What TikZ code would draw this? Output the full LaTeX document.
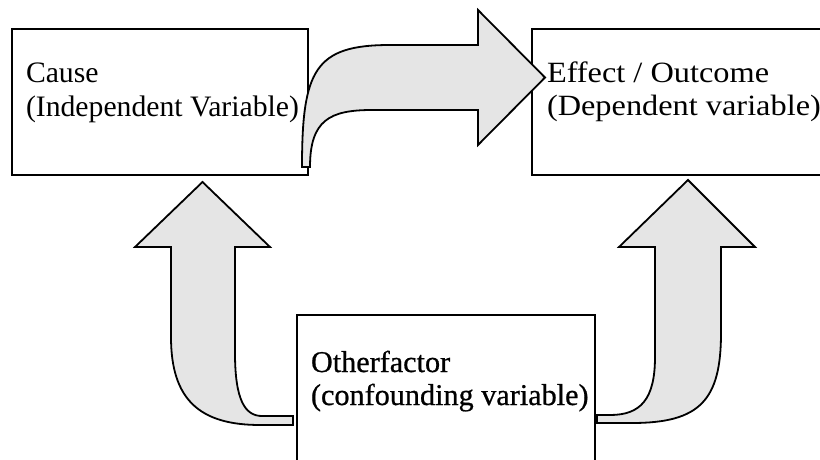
\documentclass[tikz,border=0pt]{standalone}
\usepackage{fontspec}
\setmainfont{Liberation Serif}
\newfontfamily\heavyserif[FakeBold=0.7]{Liberation Serif}
\begin{document}
\begin{tikzpicture}[x=1pt,y=-1pt,
  boxnode/.style={draw=black, line width=2pt, rectangle, inner sep=0pt, outer sep=0pt},
  txt/.style={anchor=base west, inner sep=0pt, outer sep=0pt},
  blockarrow/.style={draw=black, fill=gray!20, line width=1.8pt, line join=miter}]
\useasboundingbox (0,0) rectangle (820,460);
\clip (0,0) rectangle (820,460);
% boxes
\node[boxnode, minimum width=296pt, minimum height=146pt] (cause) at (160,102) {};
\node[boxnode, minimum width=300pt, minimum height=146pt] (effect) at (682,102) {};
\node[boxnode, minimum width=298pt, minimum height=160pt] (other) at (446,395) {};
% texts
\node[txt, font=\fontsize{29.7}{34}\selectfont] (causeA) at (26,83) {Cause};
\node[txt, font=\fontsize{29.7}{34}\selectfont] (causeB) at (26,117) {(Independent Variable)};
\node[txt, font=\fontsize{29.4}{34}\selectfont] (effA) at (547,83) {\scalebox{1.1}[1]{Effect / Outcome}};
\node[txt, font=\fontsize{29.4}{34}\selectfont] (effB) at (547,116) {\scalebox{1.1}[1]{(Dependent variable)}};
\node[txt, font=\fontsize{30.2}{34}\heavyserif] (othA) at (311,372) {Otherfactor};
\node[txt, font=\fontsize{30.2}{34}\heavyserif] (othB) at (311,405) {(confounding variable)};
% top bent arrow: cause -> effect
\draw[blockarrow] (302,167) .. controls (302,70) and (315,45) .. (390,45)
  -- (478,45) -- (478,10) -- (545,77.5) -- (478,145) -- (478,110) -- (372,110)
  .. controls (330,110) and (310,120) .. (310,167) -- cycle;
% left up arrow: other -> cause
\draw[blockarrow] (293,425) -- (260,425)
  .. controls (200,425) and (171,400) .. (171,337) -- (171,247) -- (135,247)
  -- (202.5,182) -- (270,247) -- (235,247) -- (235,353)
  .. controls (235,400) and (245,416) .. (262,416) -- (293,416) -- cycle;
% right up arrow: other -> effect
\draw[blockarrow] (597,423) -- (632,423)
  .. controls (700,423) and (721,400) .. (721,333) -- (721,247) -- (755,247)
  -- (688,180) -- (619,247) -- (655,247) -- (655,357)
  .. controls (655,400) and (640,415) .. (610,415) -- (597,415) -- cycle;
\end{tikzpicture}
\end{document}
